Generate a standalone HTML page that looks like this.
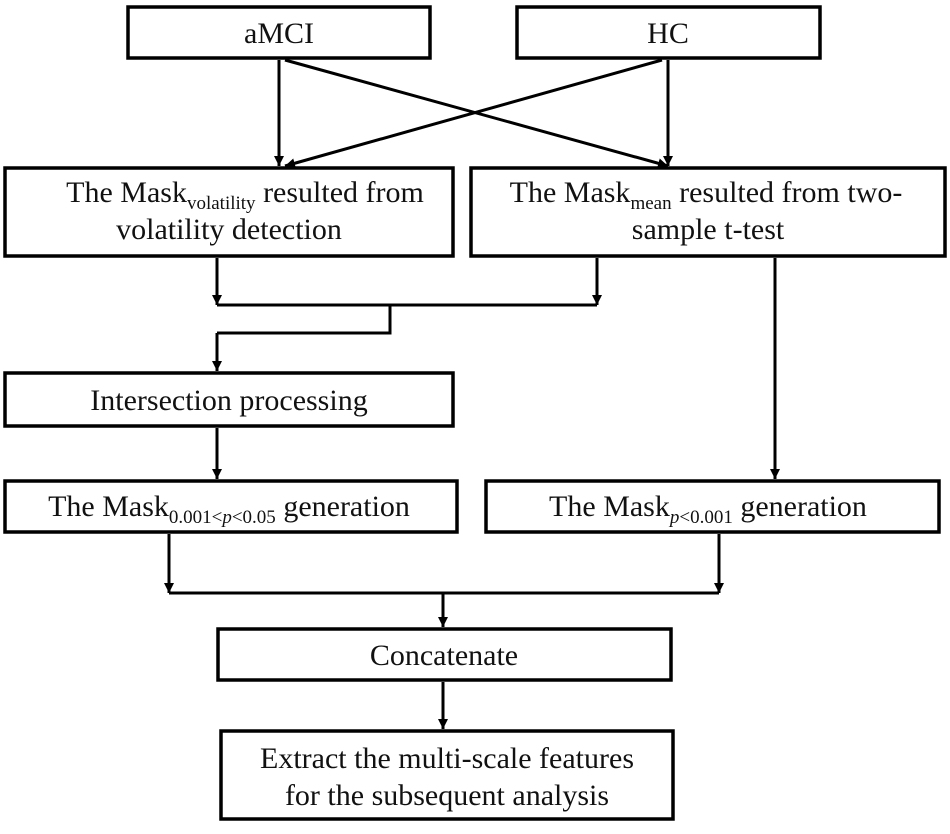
<!DOCTYPE html>
<html><head><meta charset="utf-8"><style>
html,body{margin:0;padding:0;background:#fff}
svg{display:block}
text{font-family:"Liberation Serif",serif;font-size:30px;fill:#111}
</style></head><body>
<svg width="950" height="834" viewBox="0 0 950 834" xmlns="http://www.w3.org/2000/svg">
<defs><marker id="a" markerWidth="12" markerHeight="12" refX="10" refY="5" orient="auto" markerUnits="userSpaceOnUse"><path d="M0,0 L10,5 L0,10 z" fill="#000"/></marker></defs>
<g fill="#fff" stroke="#000" stroke-width="3.5">
<rect x="128" y="7" width="302" height="51"/>
<rect x="517" y="7" width="303" height="51"/>
<rect x="5" y="168" width="448" height="88"/>
<rect x="471" y="168" width="474" height="88"/>
<rect x="5" y="373" width="448" height="53"/>
<rect x="5" y="481" width="452" height="51"/>
<rect x="486" y="481" width="453" height="51"/>
<rect x="218" y="629" width="453" height="51"/>
<rect x="221" y="731" width="452" height="88"/>
</g>
<g stroke="#000" stroke-width="3" fill="none">
<line x1="279" y1="60" x2="279" y2="166" marker-end="url(#a)"/>
<line x1="285" y1="60" x2="668" y2="166" marker-end="url(#a)"/>
<line x1="668" y1="60" x2="668" y2="166" marker-end="url(#a)"/>
<line x1="662" y1="60" x2="285" y2="166" marker-end="url(#a)"/>
<line x1="217" y1="258" x2="217" y2="305" marker-end="url(#a)"/>
<line x1="597" y1="258" x2="597" y2="305" marker-end="url(#a)"/>
<polyline points="217,305 597,305"/>
<polyline points="390,305 390,333 217,333"/>
<line x1="217" y1="333" x2="217" y2="371" marker-end="url(#a)"/>
<line x1="217" y1="428" x2="217" y2="479" marker-end="url(#a)"/>
<line x1="775" y1="258" x2="775" y2="479" marker-end="url(#a)"/>
<line x1="169" y1="534" x2="169" y2="593" marker-end="url(#a)"/>
<line x1="719" y1="534" x2="719" y2="593" marker-end="url(#a)"/>
<polyline points="169,593 719,593"/>
<line x1="443" y1="593" x2="443" y2="627" marker-end="url(#a)"/>
<line x1="443" y1="682" x2="443" y2="729" marker-end="url(#a)"/>
</g>
<text x="279" y="43" text-anchor="middle">aMCI</text>
<text x="668" y="43" text-anchor="middle">HC</text>
<text x="245" y="202" text-anchor="middle">The Mask<tspan font-size="19" dy="7">volatility</tspan><tspan dy="-7"> resulted from</tspan></text>
<text x="229" y="239" text-anchor="middle">volatility detection</text>
<text x="706" y="202" text-anchor="middle">The Mask<tspan font-size="19" dy="7">mean</tspan><tspan dy="-7"> resulted from two-</tspan></text>
<text x="708" y="239" text-anchor="middle">sample t-test</text>
<text x="229" y="410" text-anchor="middle">Intersection processing</text>
<text x="229" y="516" text-anchor="middle">The Mask<tspan font-size="19" dy="7">0.001&lt;<tspan font-style="italic">p</tspan>&lt;0.05</tspan><tspan dy="-7"> generation</tspan></text>
<text x="708" y="516" text-anchor="middle">The Mask<tspan font-size="19" dy="7"><tspan font-style="italic">p</tspan>&lt;0.001</tspan><tspan dy="-7"> generation</tspan></text>
<text x="444" y="665" text-anchor="middle">Concatenate</text>
<text x="447" y="768" text-anchor="middle">Extract the multi-scale features</text>
<text x="447" y="805" text-anchor="middle">for the subsequent analysis</text>
</svg>
</body></html>
